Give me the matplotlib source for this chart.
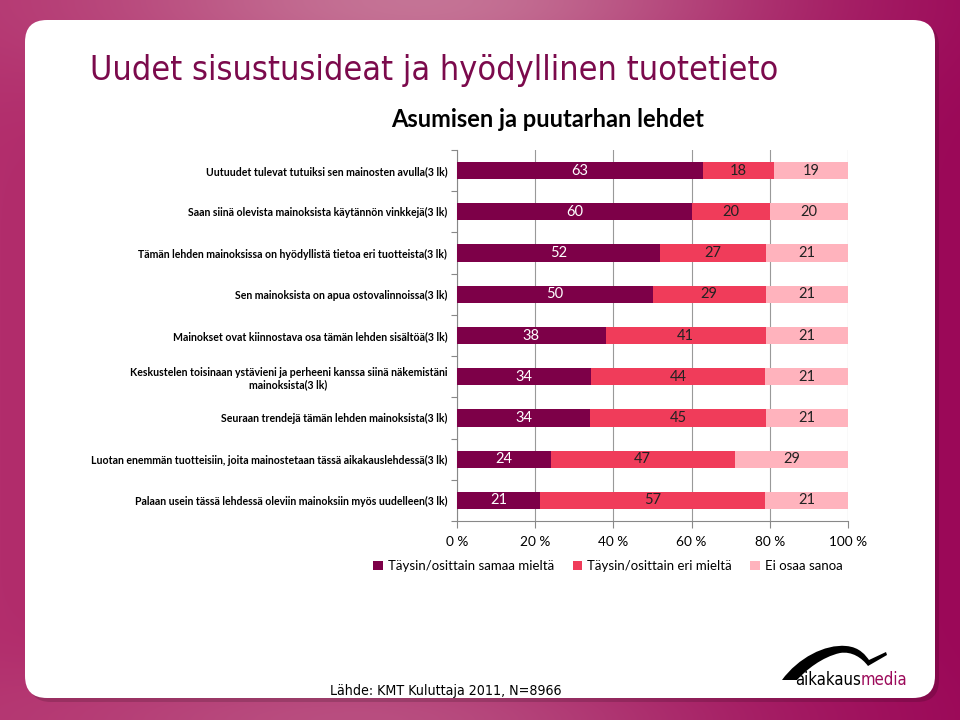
import numpy as np
import matplotlib
matplotlib.use("Agg")
import matplotlib.pyplot as plt
from matplotlib.patches import FancyBboxPatch, Patch, PathPatch
from matplotlib.path import Path

categories = [
    "Uutuudet tulevat tutuiksi sen mainosten avulla(3 lk)",
    "Saan siinä olevista mainoksista käytännön vinkkejä(3 lk)",
    "Tämän lehden mainoksissa on hyödyllistä tietoa eri tuotteista(3 lk)",
    "Sen mainoksista on apua ostovalinnoissa(3 lk)",
    "Mainokset ovat kiinnostava osa tämän lehden sisältöä(3 lk)",
    "Keskustelen toisinaan ystävieni ja perheeni kanssa siinä näkemistäni\nmainoksista(3 lk)",
    "Seuraan trendejä tämän lehden mainoksista(3 lk)",
    "Luotan enemmän tuotteisiin, joita mainostetaan tässä aikakauslehdessä(3 lk)",
    "Palaan usein tässä lehdessä oleviin mainoksiin myös uudelleen(3 lk)",
]
agree = [63, 60, 52, 50, 38, 34, 34, 24, 21]
disagree = [18, 20, 27, 29, 41, 44, 45, 47, 57]
dont_know = [19, 20, 21, 21, 21, 21, 21, 29, 21]
series_names = ["Täysin/osittain samaa mieltä", "Täysin/osittain eri mieltä", "Ei osaa sanoa"]
x_ticks = [0, 20, 40, 60, 80, 100]
x_tick_labels = ["0 %", "20 %", "40 %", "60 %", "80 %", "100 %"]

title = "Uudet sisustusideat ja hyödyllinen tuotetieto"
subtitle = "Asumisen ja puutarhan lehdet"
source = "Lähde: KMT Kuluttaja 2011, N=8966"

colors = ["#7d0048", "#f03c5a", "#ffb3bd"]
label_colors = ["white", "#222222", "#222222"]

W, H = 960, 720
fig = plt.figure(figsize=(9.6, 7.2), dpi=100)

# background gradient
bg = fig.add_axes([0, 0, 1, 1])
bg.set_axis_off()
yy, xx = np.mgrid[0:H, 0:W]
t = xx / W
base = np.zeros((H, W, 3))
left = np.array([178, 45, 108]) / 255
right = np.array([155, 8, 88]) / 255
for c in range(3):
    base[..., c] = left[c] * (1 - t) + right[c] * t
light = np.exp(-(((xx - 420) / 330) ** 2 + ((yy - 0) / 90) ** 2))
light2 = np.exp(-(((xx - 380) / 330) ** 2 + ((yy - 720) / 60) ** 2))
hl = np.array([200, 125, 155]) / 255
for c in range(3):
    base[..., c] = base[..., c] * (1 - 0.9 * light - 0.5 * light2) + hl[c] * (0.9 * light + 0.5 * light2)
bg.imshow(base, extent=[0, W, 0, H], origin="upper", aspect="auto")
bg.set_xlim(0, W)
bg.set_ylim(0, H)

# shadow + panel
shadow = FancyBboxPatch((25 + 4, 22 - 4), 910, 678,
                        boxstyle="round,pad=0,rounding_size=22",
                        transform=bg.transData, facecolor="black", alpha=0.15,
                        edgecolor="none")
bg.add_patch(shadow)
panel = FancyBboxPatch((25, 22), 910, 678,
                       boxstyle="round,pad=0,rounding_size=22",
                       transform=bg.transData, facecolor="white", edgecolor="none")
bg.add_patch(panel)

# logo: swoosh + text (pixel coords from top, flipped)
def P(x, y):
    return (x, H - y)

verts = [P(782, 680),
         P(798, 658), P(825, 644), P(846, 646),
         P(860, 647), P(866, 656), P(869, 660),
         P(886, 652), P(887, 655), P(868, 666),
         P(862, 658), P(852, 651), P(840, 653),
         P(822, 657), P(806, 670), P(797, 680),
         P(782, 680)]
codes = [Path.MOVETO,
         Path.CURVE4, Path.CURVE4, Path.CURVE4,
         Path.CURVE4, Path.CURVE4, Path.CURVE4,
         Path.LINETO, Path.LINETO, Path.LINETO,
         Path.CURVE4, Path.CURVE4, Path.CURVE4,
         Path.CURVE4, Path.CURVE4, Path.CURVE4,
         Path.CLOSEPOLY]
bg.add_patch(PathPatch(Path(verts, codes), facecolor="black", edgecolor="none"))
t1 = bg.text(795, H - 685, "aikakaus", fontsize=12, color="black", family="DejaVu Sans",
             fontstretch="condensed", ha="left", va="baseline")
bg.annotate("media", xy=(1, 0), xycoords=t1, ha="left", va="bottom",
            fontsize=12, color="#9c0a5a", family="DejaVu Sans", fontstretch="condensed")

# titles
fig.text(90 / W, 1 - 80 / H, title, fontsize=24.5, color="#7b0a4c",
         family="DejaVu Sans", fontstretch="condensed", ha="left", va="baseline")
fig.text(548 / W, 1 - 127 / H, subtitle, fontsize=17, color="black",
         family="Lato", fontweight="bold", ha="center", va="baseline")
fig.text(330 / W, 1 - 695 / H, source, fontsize=10.2, color="black",
         family="DejaVu Sans", fontstretch="condensed", ha="left", va="baseline")

# chart
ax = fig.add_axes([457 / W, 1 - 521 / H, 391 / W, 371 / H])
n = len(categories)
y = np.arange(n)
data = np.array([agree, disagree, dont_know], dtype=float)
totals = data.sum(axis=0)
pct = data / totals * 100
lefts = np.zeros(n)
for i in range(3):
    ax.barh(y, pct[i], left=lefts, height=0.42, color=colors[i], zorder=3)
    for j in range(n):
        ax.text(lefts[j] + pct[i][j] / 2, y[j], f"{int(data[i][j])}",
                ha="center", va="center", fontsize=10.5, family="Lato",
                color=label_colors[i], zorder=4)
    lefts += pct[i]

ax.set_ylim(n - 0.5, -0.5)
ax.set_xlim(0, 100)
ax.set_xticks(x_ticks)
ax.set_xticklabels(x_tick_labels, fontsize=9.8, family="Lato")
ax.set_yticks(y)
ax.set_yticklabels(categories, fontsize=7.6, family="Lato", fontweight="bold",
                   multialignment="center")
ax.set_yticks(np.arange(n + 1) - 0.5, minor=True)
ax.tick_params(axis="y", which="major", length=0, pad=7)
ax.tick_params(axis="y", which="minor", length=4, color="#888888", width=0.8)
ax.tick_params(axis="x", length=5, color="#888888", width=0.8, pad=6)
ax.grid(axis="x", color="#999999", linewidth=0.8, zorder=0)
for s in ["top", "right"]:
    ax.spines[s].set_visible(False)
ax.spines["left"].set_color("#888888")
ax.spines["bottom"].set_color("#888888")
ax.spines["left"].set_linewidth(0.8)
ax.spines["bottom"].set_linewidth(0.8)
ax.set_facecolor("none")

handles = [Patch(facecolor=c, edgecolor="none") for c in colors]
fig.legend(handles, series_names, loc="center", bbox_to_anchor=(608 / W, 1 - 566 / H),
           ncol=3, frameon=False, handlelength=0.7, handleheight=0.7,
           handletextpad=0.4, columnspacing=1.4,
           prop={"family": "Lato", "size": 9.5})

fig.savefig("out.png", dpi=100)
